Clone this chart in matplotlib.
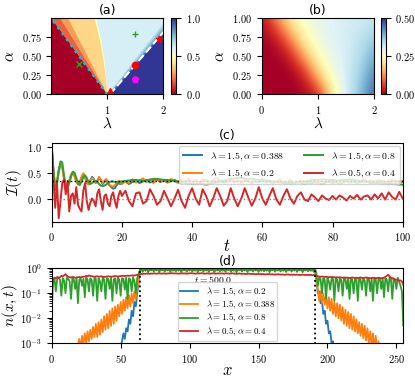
import numpy as np
import matplotlib
matplotlib.use('Agg')
import matplotlib.pyplot as plt
from matplotlib import cm, colors

plt.rcParams['font.family'] = 'serif'
plt.rcParams['font.serif'] = ['cmr10', 'DejaVu Serif']
plt.rcParams['mathtext.fontset'] = 'cm'
plt.rcParams['axes.formatter.use_mathtext'] = True
plt.rcParams['xtick.labelsize'] = 7.5
plt.rcParams['ytick.labelsize'] = 7.5

# ---------------- panel (a): phase diagram regions ----------------
alpha_pts = [0.0, 0.25, 0.5, 0.75, 1.0]
edge_left = [0.0, 0.0, 0.0, 0.0, 0.0]
edge_cyan = [1.0, 0.75, 0.5, 0.25, 0.0]
edge_or1 = [1.0, 0.79, 0.58, 0.37, 0.16]
edge_or2 = [1.0, 0.825, 0.65, 0.475, 0.30]
edge_peach = [1.0, 0.965, 0.92, 0.855, 0.77]
edge_yel = [1.0, 0.975, 0.94, 0.88, 0.80]
edge_st1 = [1.0, 1.27, 1.53, 1.80, 2.06]
edge_st2 = [1.01, 1.29, 1.565, 1.84, 2.12]
edge_st3 = [1.02, 1.31, 1.60, 1.885, 2.17]
edge_dash = [1.045, 1.337, 1.63, 1.922, 2.215]
edge_right = [2.0, 2.0, 2.0, 2.0, 2.0]
region_vals = [0.0, 0.18, 0.27, 0.38, 0.5, 0.62, 0.70, 0.78, 0.86, 1.0]

pts_lam = [1.5, 0.5, 1.5, 1.5, 1.92, 1.05]
pts_alpha = [0.79, 0.4, 0.388, 0.2, 0.73, 0.04]
pts_marker = ['+', 'x', 'o', 'p', '*', '^']
pts_color = ['tab:green', 'tab:green', 'red', 'magenta', 'red', 'red']

# ---------------- panel (b): coarse map ----------------
b_lam = [0, 0.25, 0.5, 0.75, 1.0, 1.25, 1.5, 1.75, 2.0]
b_alpha = [0, 0.25, 0.5, 0.75, 1.0]
b_vals = [
    [0.00, 0.00, 0.00, 0.005, 0.03, 0.22, 0.31, 0.38, 0.47],
    [0.00, 0.00, 0.00, 0.03, 0.18, 0.27, 0.31, 0.36, 0.44],
    [0.00, 0.00, 0.03, 0.15, 0.25, 0.29, 0.31, 0.34, 0.40],
    [0.00, 0.03, 0.13, 0.24, 0.28, 0.30, 0.31, 0.33, 0.36],
    [0.02, 0.12, 0.23, 0.27, 0.29, 0.30, 0.31, 0.31, 0.32],
]

# ---------------- panel (c): imbalance vs time ----------------
t_c = np.concatenate([np.arange(0, 20, 0.5), np.arange(20, 101, 1)])

I_blue = [1.0, 0.55, 0.22, 0.3, 0.52, 0.66, 0.62, 0.4, 0.25, 0.24,
          0.32, 0.45, 0.5, 0.45, 0.35, 0.27, 0.3, 0.4, 0.47, 0.4,
          0.3, 0.28, 0.35, 0.42, 0.38, 0.3, 0.33, 0.4, 0.35, 0.28,
          0.32, 0.36, 0.3, 0.25, 0.22, 0.19, 0.2, 0.26, 0.3, 0.28,
          0.30, 0.33, 0.28, 0.32, 0.35, 0.30, 0.33, 0.36, 0.31, 0.34,
          0.37, 0.32, 0.35, 0.31, 0.34, 0.36, 0.32, 0.30, 0.33, 0.35,
          0.31, 0.34, 0.30, 0.33, 0.36, 0.31, 0.34, 0.32, 0.35, 0.31,
          0.33, 0.36, 0.32, 0.34, 0.31, 0.35, 0.33, 0.30, 0.34, 0.32,
          0.35, 0.31, 0.33, 0.30, 0.32, 0.34, 0.31, 0.29, 0.32, 0.30,
          0.33, 0.30, 0.28, 0.31, 0.29, 0.32, 0.30, 0.28, 0.31, 0.33,
          0.30, 0.32, 0.29, 0.31, 0.34, 0.31, 0.33, 0.30, 0.32, 0.35,
          0.32, 0.30, 0.33, 0.31, 0.34, 0.32, 0.30, 0.33, 0.35, 0.31,
          0.33]
I_orange = [1.0, 0.52, 0.2, 0.32, 0.55, 0.68, 0.6, 0.38, 0.24, 0.26,
            0.35, 0.47, 0.5, 0.42, 0.32, 0.28, 0.33, 0.42, 0.49, 0.42,
            0.32, 0.27, 0.33, 0.4, 0.36, 0.31, 0.35, 0.42, 0.36, 0.3,
            0.34, 0.38, 0.32, 0.27, 0.24, 0.23, 0.26, 0.3, 0.34, 0.31,
            0.28, 0.34, 0.30, 0.37, 0.31, 0.35, 0.39, 0.32, 0.36, 0.30,
            0.38, 0.33, 0.36, 0.31, 0.38, 0.34, 0.30, 0.37, 0.33, 0.39,
            0.32, 0.36, 0.31, 0.38, 0.33, 0.30, 0.36, 0.40, 0.32, 0.35,
            0.31, 0.38, 0.33, 0.36, 0.30, 0.37, 0.34, 0.31, 0.36, 0.33,
            0.38, 0.32, 0.35, 0.30, 0.34, 0.37, 0.31, 0.33, 0.36, 0.29,
            0.32, 0.35, 0.30, 0.33, 0.37, 0.31, 0.29, 0.34, 0.32, 0.36,
            0.31, 0.34, 0.30, 0.33, 0.37, 0.32, 0.35, 0.31, 0.34, 0.38,
            0.32, 0.35, 0.31, 0.36, 0.33, 0.30, 0.34, 0.37, 0.32, 0.35,
            0.33]
I_green = [1.0, 0.5, 0.16, 0.3, 0.55, 0.72, 0.7, 0.45, 0.22, 0.2,
           0.3, 0.42, 0.52, 0.5, 0.4, 0.3, 0.26, 0.32, 0.42, 0.45,
           0.4, 0.32, 0.28, 0.3, 0.33, 0.34, 0.32, 0.28, 0.25, 0.24,
           0.25, 0.27, 0.3, 0.32, 0.33, 0.33, 0.32, 0.31, 0.32, 0.33,
           0.33, 0.34, 0.35, 0.36, 0.36, 0.35, 0.34, 0.35, 0.37, 0.38,
           0.38, 0.37, 0.36, 0.36, 0.35, 0.34, 0.33, 0.32, 0.30, 0.29,
           0.28, 0.28, 0.29, 0.28, 0.27, 0.28, 0.30, 0.31, 0.33, 0.35,
           0.36, 0.38, 0.39, 0.40, 0.40, 0.39, 0.38, 0.38, 0.37, 0.36,
           0.36, 0.35, 0.34, 0.33, 0.32, 0.31, 0.30, 0.30, 0.29, 0.30,
           0.31, 0.32, 0.33, 0.34, 0.35, 0.36, 0.36, 0.37, 0.37, 0.36,
           0.36, 0.35, 0.35, 0.36, 0.36, 0.37, 0.36, 0.35, 0.34, 0.33,
           0.32, 0.31, 0.30, 0.30, 0.29, 0.29, 0.28, 0.28, 0.28, 0.27,
           0.27]
I_red = [1.0, 0.35, -0.18, 0.3, -0.38, -0.05, 0.3, 0.37, 0.08, 0.34,
         -0.25, 0.05, 0.1, -0.1, 0.22, -0.12, -0.2, -0.25, 0.15, 0.3,
         -0.05, -0.22, -0.08, 0.0, -0.05, -0.15, 0.1, 0.18, -0.05, -0.22,
         0.05, 0.08, -0.1, -0.15, 0.05, 0.12, -0.05, -0.18, 0.05, 0.15,
         0.05, 0.15, -0.05, -0.15, 0.10, 0.12, -0.10, -0.05, 0.18, 0.05,
         -0.12, -0.05, 0.15, 0.00, -0.15, 0.00, 0.17, -0.05, -0.18, 0.05,
         0.20, 0.00, -0.12, 0.18, 0.05, -0.15, 0.00, 0.20, 0.05, -0.14,
         -0.05, 0.20, 0.00, -0.15, 0.00, 0.20, 0.02, -0.14, 0.00, 0.22,
         0.00, -0.12, 0.05, 0.20, -0.02, -0.12, 0.05, 0.18, 0.00, -0.10,
         0.05, 0.12, -0.02, -0.05, 0.08, 0.02, -0.05, 0.06, 0.00, -0.03,
         0.05, -0.02, 0.06, 0.02, -0.04, 0.05, 0.00, 0.07, -0.02, 0.04,
         0.06, -0.02, 0.08, 0.00, 0.10, -0.02, 0.12, 0.03, -0.02, 0.13,
         0.00]
ref_levels = [1 / 3, 0.0]
c_labels = [r'$\lambda = 1.5, \alpha = 0.388$', r'$\lambda = 1.5, \alpha = 0.2$',
            r'$\lambda = 1.5, \alpha = 0.8$', r'$\lambda = 0.5, \alpha = 0.4$']

# ---------------- panel (d): density profile at t = 500 ----------------
x_d = np.arange(256)
n_init = [0] * 64 + [1] * 128 + [0] * 64

n_blue = ([1e-5] * 48 +
          [0.0002, 0.0004, 0.0008, 0.0012, 0.0025, 0.0015, 0.004, 0.003,
           0.009, 0.006, 0.02, 0.012, 0.045, 0.03, 0.1, 0.25] +
          [0.88, 0.97, 0.84, 0.96, 0.86, 0.97, 0.82, 0.95, 0.87, 0.97, 0.83, 0.96, 0.85, 0.97, 0.82, 0.95,
           0.86, 0.97, 0.84, 0.96, 0.87, 0.97, 0.83, 0.95, 0.85, 0.97, 0.82, 0.96, 0.86, 0.97, 0.84, 0.95,
           0.87, 0.97, 0.83, 0.96, 0.85, 0.97, 0.82, 0.95, 0.86, 0.97, 0.84, 0.96, 0.87, 0.97, 0.83, 0.95,
           0.85, 0.97, 0.82, 0.96, 0.86, 0.97, 0.84, 0.95, 0.87, 0.97, 0.83, 0.96, 0.85, 0.97, 0.82, 0.95,
           0.86, 0.97, 0.84, 0.96, 0.87, 0.97, 0.83, 0.95, 0.85, 0.97, 0.82, 0.96, 0.86, 0.97, 0.84, 0.95,
           0.87, 0.97, 0.83, 0.96, 0.85, 0.97, 0.82, 0.95, 0.86, 0.97, 0.84, 0.96, 0.87, 0.97, 0.83, 0.95,
           0.85, 0.97, 0.82, 0.96, 0.86, 0.97, 0.84, 0.95, 0.87, 0.97, 0.83, 0.96, 0.85, 0.97, 0.82, 0.95,
           0.86, 0.97, 0.84, 0.96, 0.87, 0.97, 0.83, 0.95, 0.85, 0.97, 0.82, 0.96, 0.86, 0.97, 0.84, 0.95] +
          [0.3, 0.1, 0.12, 0.04, 0.05, 0.015, 0.02, 0.006, 0.008, 0.0025, 0.003, 0.001,
           0.0012, 0.0004, 0.0003, 0.0001] +
          [1e-5] * 48)
n_orange = ([1e-5] * 16 +
            [0.0002, 0.0004, 0.0003, 0.0008, 0.0015, 0.0006, 0.002, 0.0009,
             0.0025, 0.001, 0.003, 0.0012, 0.0035, 0.0015, 0.0045, 0.0018,
             0.006, 0.0018, 0.007, 0.0022, 0.009, 0.0028, 0.012, 0.0035,
             0.015, 0.004, 0.02, 0.005, 0.025, 0.006, 0.03, 0.008,
             0.035, 0.012, 0.045, 0.015, 0.055, 0.02, 0.07, 0.025,
             0.085, 0.03, 0.1, 0.04, 0.12, 0.06, 0.15, 0.3] +
            [0.84, 0.96, 0.80, 0.95, 0.83, 0.97, 0.78, 0.94, 0.85, 0.96, 0.80, 0.95, 0.82, 0.97, 0.79, 0.94,
             0.84, 0.96, 0.81, 0.95, 0.83, 0.97, 0.78, 0.94, 0.85, 0.96, 0.80, 0.95, 0.82, 0.97, 0.79, 0.94,
             0.84, 0.96, 0.80, 0.95, 0.83, 0.97, 0.78, 0.94, 0.85, 0.96, 0.81, 0.95, 0.82, 0.97, 0.79, 0.94,
             0.84, 0.96, 0.80, 0.95, 0.83, 0.97, 0.78, 0.94, 0.85, 0.96, 0.80, 0.95, 0.82, 0.97, 0.79, 0.94,
             0.84, 0.96, 0.81, 0.95, 0.83, 0.97, 0.78, 0.94, 0.85, 0.96, 0.80, 0.95, 0.82, 0.97, 0.79, 0.94,
             0.84, 0.96, 0.80, 0.95, 0.83, 0.97, 0.78, 0.94, 0.85, 0.96, 0.81, 0.95, 0.82, 0.97, 0.79, 0.94,
             0.84, 0.96, 0.80, 0.95, 0.83, 0.97, 0.78, 0.94, 0.85, 0.96, 0.80, 0.95, 0.82, 0.97, 0.79, 0.94,
             0.84, 0.96, 0.81, 0.95, 0.83, 0.97, 0.78, 0.94, 0.85, 0.96, 0.80, 0.95, 0.82, 0.97, 0.79, 0.94] +
            [0.3, 0.15, 0.05, 0.12, 0.04, 0.1, 0.035, 0.08, 0.025, 0.07, 0.02, 0.06, 0.015, 0.045, 0.012, 0.04,
             0.01, 0.035, 0.008, 0.028, 0.006, 0.022, 0.005, 0.018, 0.004, 0.015, 0.0035, 0.012, 0.003, 0.009, 0.0025, 0.007,
             0.002, 0.006, 0.0016, 0.005, 0.0013, 0.004, 0.001, 0.003, 0.0008, 0.0025, 0.0006, 0.002, 0.0004, 0.0012, 0.0003, 0.0008] +
            [1e-5] * 16)
n_green = ([0.02, 0.30, 0.40, 0.12, 0.38, 0.42, 0.35, 0.08, 0.40, 0.33, 0.10, 0.42, 0.38, 0.30, 0.06, 0.40,
            0.36, 0.15, 0.42, 0.04, 0.35, 0.40, 0.20, 0.38, 0.07, 0.42, 0.36, 0.12, 0.40, 0.34, 0.08, 0.42,
            0.38, 0.05, 0.40, 0.30, 0.12, 0.42, 0.36, 0.06, 0.40, 0.38, 0.15, 0.42, 0.05, 0.36, 0.40, 0.10,
            0.42, 0.35, 0.08, 0.40, 0.38, 0.14, 0.42, 0.06, 0.40, 0.36, 0.12, 0.44, 0.30, 0.10, 0.40, 0.60] +
           [0.85, 0.95, 0.72, 0.93, 0.80, 0.96, 0.70, 0.94, 0.83, 0.95, 0.75, 0.92, 0.84, 0.96, 0.71, 0.93,
            0.82, 0.95, 0.74, 0.94, 0.83, 0.96, 0.72, 0.93, 0.80, 0.95, 0.76, 0.92, 0.81, 0.96, 0.70, 0.94,
            0.84, 0.95, 0.73, 0.93, 0.82, 0.96, 0.75, 0.94, 0.80, 0.95, 0.71, 0.92, 0.83, 0.96, 0.74, 0.93,
            0.81, 0.95, 0.72, 0.94, 0.84, 0.96, 0.70, 0.93, 0.82, 0.95, 0.76, 0.92, 0.80, 0.96, 0.73, 0.94,
            0.85, 0.95, 0.72, 0.93, 0.80, 0.96, 0.70, 0.94, 0.83, 0.95, 0.75, 0.92, 0.84, 0.96, 0.71, 0.93,
            0.82, 0.95, 0.74, 0.94, 0.83, 0.96, 0.72, 0.93, 0.80, 0.95, 0.76, 0.92, 0.81, 0.96, 0.70, 0.94,
            0.84, 0.95, 0.73, 0.93, 0.82, 0.96, 0.75, 0.94, 0.80, 0.95, 0.71, 0.92, 0.83, 0.96, 0.74, 0.93,
            0.81, 0.95, 0.72, 0.94, 0.84, 0.96, 0.70, 0.93, 0.82, 0.95, 0.76, 0.92, 0.80, 0.96, 0.73, 0.94] +
           [0.60, 0.20, 0.42, 0.38, 0.10, 0.40, 0.36, 0.06, 0.42, 0.30, 0.14, 0.40, 0.38, 0.05, 0.42, 0.36,
            0.12, 0.40, 0.34, 0.08, 0.42, 0.38, 0.15, 0.40, 0.06, 0.42, 0.35, 0.10, 0.40, 0.38, 0.05, 0.42,
            0.36, 0.14, 0.40, 0.32, 0.08, 0.42, 0.38, 0.12, 0.40, 0.05, 0.42, 0.36, 0.10, 0.40, 0.38, 0.15,
            0.42, 0.07, 0.40, 0.36, 0.12, 0.42, 0.38, 0.06, 0.40, 0.34, 0.15, 0.42, 0.30, 0.20, 0.12, 0.005])
n_red = ([0.12, 0.38, 0.42, 0.40, 0.45, 0.42, 0.44, 0.50, 0.47, 0.52, 0.58, 0.50, 0.46, 0.44, 0.43, 0.45,
          0.44, 0.42, 0.43, 0.44, 0.45, 0.44, 0.45, 0.46, 0.47, 0.50, 0.48, 0.52, 0.50, 0.48, 0.47, 0.46,
          0.47, 0.48, 0.46, 0.47, 0.48, 0.46, 0.45, 0.46, 0.47, 0.48, 0.47, 0.46, 0.47, 0.48, 0.49, 0.48,
          0.47, 0.48, 0.49, 0.50, 0.50, 0.49, 0.50, 0.51, 0.50, 0.51, 0.52, 0.51, 0.52, 0.53, 0.55, 0.57] +
         [0.58, 0.60, 0.59, 0.61, 0.60, 0.62, 0.61, 0.60, 0.62, 0.61, 0.63, 0.62, 0.61, 0.62, 0.63, 0.62,
          0.61, 0.63, 0.62, 0.61, 0.62, 0.63, 0.62, 0.64, 0.63, 0.62, 0.63, 0.62, 0.61, 0.62, 0.63, 0.62,
          0.63, 0.62, 0.61, 0.62, 0.63, 0.64, 0.63, 0.62, 0.61, 0.62, 0.63, 0.62, 0.63, 0.64, 0.62, 0.61,
          0.62, 0.63, 0.62, 0.61, 0.62, 0.63, 0.62, 0.61, 0.62, 0.63, 0.62, 0.63, 0.62, 0.61, 0.62, 0.63,
          0.62, 0.61, 0.62, 0.63, 0.62, 0.61, 0.60, 0.61, 0.62, 0.61, 0.60, 0.61, 0.60, 0.59, 0.60, 0.61,
          0.60, 0.59, 0.60, 0.59, 0.58, 0.59, 0.60, 0.59, 0.58, 0.59, 0.58, 0.57, 0.58, 0.59, 0.58, 0.57,
          0.58, 0.57, 0.56, 0.57, 0.58, 0.57, 0.56, 0.57, 0.56, 0.55, 0.56, 0.57, 0.56, 0.55, 0.56, 0.55,
          0.56, 0.55, 0.56, 0.55, 0.54, 0.55, 0.56, 0.55, 0.54, 0.55, 0.54, 0.55, 0.54, 0.53, 0.54, 0.53] +
         [0.50, 0.48, 0.47, 0.46, 0.47, 0.46, 0.45, 0.46, 0.45, 0.44, 0.45, 0.44, 0.45, 0.44, 0.43, 0.44,
          0.43, 0.44, 0.43, 0.42, 0.43, 0.42, 0.43, 0.42, 0.41, 0.42, 0.43, 0.42, 0.41, 0.42, 0.41, 0.42,
          0.43, 0.42, 0.41, 0.42, 0.43, 0.42, 0.41, 0.40, 0.41, 0.42, 0.41, 0.40, 0.41, 0.42, 0.41, 0.40,
          0.41, 0.42, 0.45, 0.50, 0.55, 0.48, 0.42, 0.40, 0.38, 0.36, 0.35, 0.34, 0.32, 0.33, 0.30, 0.22])
d_labels = [r'$\lambda = 1.5, \alpha = 0.2$', r'$\lambda = 1.5, \alpha = 0.388$',
            r'$\lambda = 1.5, \alpha = 0.8$', r'$\lambda = 0.5, \alpha = 0.4$']

line_colors = ['tab:blue', 'tab:orange', 'tab:green', 'tab:red']
cmap = plt.get_cmap('RdYlBu')

fig = plt.figure(figsize=(4.15, 3.82), dpi=100)

# (a)
ax_a = fig.add_axes([0.124, 0.753, 0.2694, 0.199])
bounds = [edge_left, edge_cyan, edge_or1, edge_or2, edge_peach, edge_yel,
          edge_st1, edge_st2, edge_st3, edge_dash, edge_right]
for lo, hi, v in zip(bounds[:-1], bounds[1:], region_vals):
    ax_a.fill_betweenx(alpha_pts, lo, hi, color=cmap(v), ec=cmap(v), lw=0.4)
ax_a.plot(edge_cyan, alpha_pts, ':', color='tab:cyan', lw=2)
ax_a.plot(edge_dash, alpha_pts, '--', color='white', lw=1.5)
for lam, al, mk, col in zip(pts_lam, pts_alpha, pts_marker, pts_color):
    ax_a.plot(lam, al, marker=mk, color=col, ms=4.5, mew=1.0, ls='none')
ax_a.set_xlim(0, 2)
ax_a.set_ylim(0, 1)
ax_a.set_xticks([1, 2])
ax_a.set_yticks([0, 0.25, 0.5, 0.75])
ax_a.set_xlabel(r'$\lambda$', fontsize=11, labelpad=0)
ax_a.set_ylabel(r'$\alpha$', fontsize=11, labelpad=3)
ax_a.set_title('(a)', fontfamily='DejaVu Sans', fontsize=9, pad=3)
cax_a = fig.add_axes([0.412, 0.753, 0.012, 0.199])
fig.colorbar(cm.ScalarMappable(norm=colors.Normalize(0, 1), cmap=cmap), cax=cax_a, ticks=[0, 0.5, 1])

# (b)
ax_b = fig.add_axes([0.6306, 0.753, 0.2706, 0.199])
ax_b.imshow(b_vals, origin='lower', extent=[-0.125, 2.125, -0.125, 1.125], cmap=cmap,
            vmin=0, vmax=0.5, aspect='auto', interpolation='bicubic')
ax_b.set_xlim(0, 2)
ax_b.set_ylim(0, 1)
ax_b.set_xticks([0, 1, 2])
ax_b.set_yticks([0, 0.25, 0.5, 0.75, 1.0])
ax_b.set_xlabel(r'$\lambda$', fontsize=11, labelpad=0)
ax_b.set_ylabel(r'$\alpha$', fontsize=11, labelpad=3)
ax_b.set_title('(b)', fontfamily='DejaVu Sans', fontsize=9, pad=3)
cax_b = fig.add_axes([0.918, 0.753, 0.0113, 0.199])
fig.colorbar(cm.ScalarMappable(norm=colors.Normalize(0, 0.5), cmap=cmap), cax=cax_b, ticks=[0, 0.25, 0.5])

# (c)
ax_c = fig.add_axes([0.1246, 0.4196, 0.8458, 0.2052])
for series, col, lab in zip([I_blue, I_orange, I_green, I_red], line_colors, c_labels):
    ax_c.plot(t_c, series, color=col, lw=1.4, label=lab)
ax_c.axhline(ref_levels[0], color='k', ls=':', lw=1.0)
ax_c.axhline(ref_levels[1], color='gray', ls=':', lw=1.0)
ax_c.set_xlim(0, 100)
ax_c.set_yticks([0, 0.5, 1.0])
ax_c.set_xlabel(r'$t$', fontsize=12, labelpad=-4)
ax_c.set_ylabel(r'$\mathcal{I}(t)$', fontsize=11, labelpad=2)
ax_c.set_title('(c)', fontfamily='DejaVu Sans', fontsize=9, pad=3)
ax_c.legend(loc='upper right', ncol=2, fontsize=7, borderaxespad=0.3)

# (d)
ax_d = fig.add_axes([0.1246, 0.1013, 0.8472, 0.1963])
for series, col, lab in zip([n_blue, n_orange, n_green, n_red], line_colors, d_labels):
    ax_d.plot(x_d, series, color=col, lw=1.3, label=lab)
ax_d.plot(x_d, n_init, 'k:', lw=1.3)
ax_d.set_yscale('log')
ax_d.set_ylim(1e-3, 1)
ax_d.set_xlim(0, 255)
ax_d.set_xticks([0, 50, 100, 150, 200, 250])
ax_d.set_xlabel(r'$x$', fontsize=12, labelpad=-2)
ax_d.set_ylabel(r'$n(x,t)$', fontsize=11, labelpad=0)
ax_d.set_title('(d)', fontfamily='DejaVu Sans', fontsize=9, pad=2)
ax_d.text(0.46, 0.85, r'$t = 500.0$', transform=ax_d.transAxes, ha='center', va='center', fontsize=7,
          zorder=5)
ax_d.legend(loc='lower center', fontsize=6.5, labelspacing=0.1, borderpad=0.3, borderaxespad=0.3)

fig.savefig('out.png', dpi=100)
